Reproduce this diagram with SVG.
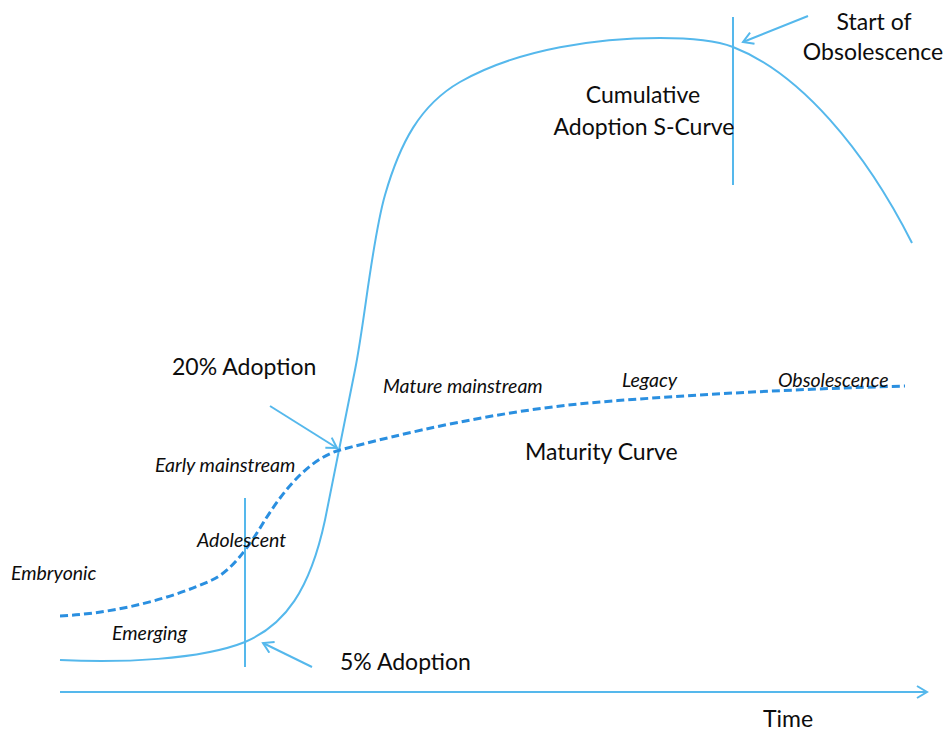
<svg xmlns="http://www.w3.org/2000/svg" width="946" height="731" viewBox="0 0 946 731">
<style>
.t{font-family:Lato,"Open Sans","Liberation Sans",sans-serif;fill:#0d0d0d;font-size:23px}
.i{font-family:Lato,"Open Sans","Liberation Sans",sans-serif;fill:#0d0d0d;font-size:19.5px;font-style:italic}
.c{fill:none;stroke:#55b8ec;stroke-width:2}
.d{fill:none;stroke:#2a8fe0;stroke-width:3;stroke-dasharray:8 4}
.a{fill:none;stroke:#55b8ec;stroke-width:2}
</style>
<defs>
<marker id="ah2" viewBox="0 0 14 14" refX="12" refY="7" markerWidth="14" markerHeight="14" markerUnits="userSpaceOnUse" orient="auto">
<path d="M2,1 L12,7 L2,13" fill="none" stroke="#55b8ec" stroke-width="2"/>
</marker>
</defs>
<rect width="946" height="731" fill="#fff"/>
<g id="connectors">
<path id="s-curve" class="c" d="M60,660 C120,663 200,660 245,642 C285,625 310,590 325,520 C335,470 345,420 355,370 C365,320 372,240 385,195 C400,143 420,105 460,82 C520,48 600,38 660,38 C700,38 720,42 733,47 C800,73 865,150 912,243"/>
<path id="maturity-curve" class="d" d="M60,616 C120,613 175,597 212,580 C232,571 250,545 265,520 C279,498 305,460 340,450 C400,434 500,410 600,402 C700,394 800,389 905,386"/>
<line class="c" x1="245" y1="498" x2="245" y2="667"/>
<line class="c" x1="733" y1="17" x2="733" y2="185"/>
<line class="a" x1="808" y1="16" x2="743" y2="42" marker-end="url(#ah2)"/>
<line class="a" x1="270" y1="406" x2="337" y2="448" marker-end="url(#ah2)"/>
<line class="a" x1="312" y1="667" x2="263" y2="643" marker-end="url(#ah2)"/>
<line id="time-axis" class="c" stroke-width="2.5" x1="60" y1="692" x2="927" y2="692" marker-end="url(#ah2)"/>
</g>
<g id="label-start"><text class="t" x="874" y="30" text-anchor="middle">Start of</text><text class="t" x="873" y="60" text-anchor="middle">Obsolescence</text></g>
<g id="label-cumulative"><text class="t" x="643" y="103" text-anchor="middle">Cumulative</text><text class="t" x="644" y="135" text-anchor="middle">Adoption S-Curve</text></g>
<g id="label-20"><text class="t" x="172" y="375">20% Adoption</text></g>
<g id="label-5"><text class="t" x="340" y="670">5% Adoption</text></g>
<g id="label-maturity"><text class="t" x="525" y="460">Maturity Curve</text></g>
<g id="label-time"><text class="t" x="763" y="727">Time</text></g>
<g id="label-mature"><text class="i" x="383" y="393">Mature mainstream</text></g>
<g id="label-legacy"><text class="i" x="622" y="387">Legacy</text></g>
<g id="label-obsol"><text class="i" x="778" y="387">Obsolescence</text></g>
<g id="label-early"><text class="i" x="155" y="472">Early mainstream</text></g>
<g id="label-adolescent"><text class="i" x="197" y="547">Adolescent</text></g>
<g id="label-embryonic"><text class="i" x="11" y="580">Embryonic</text></g>
<g id="label-emerging"><text class="i" x="112" y="640">Emerging</text></g>
</svg>
